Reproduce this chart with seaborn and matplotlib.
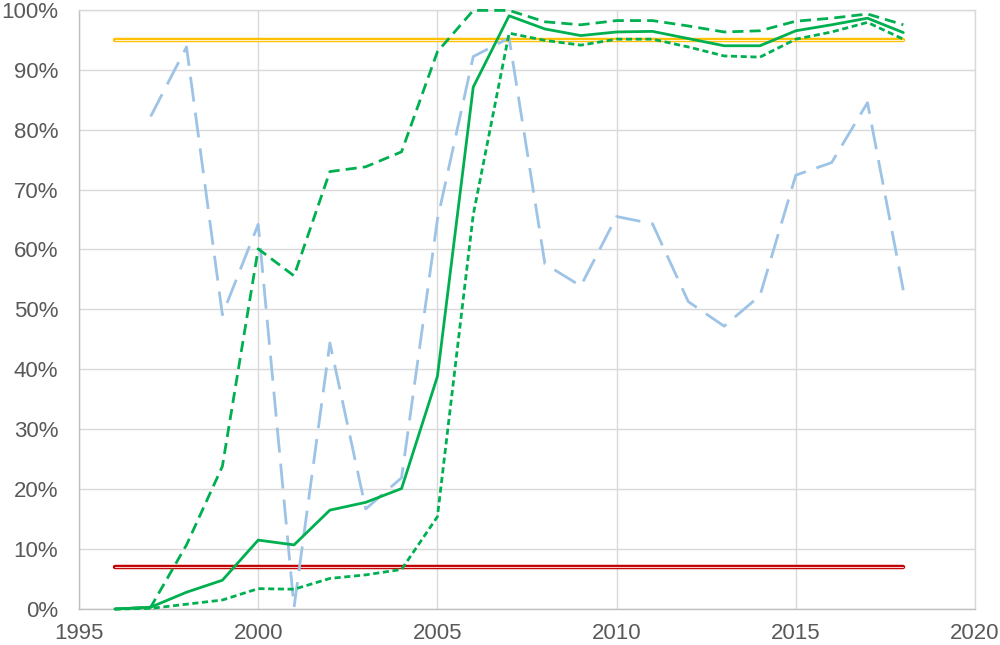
import numpy as np
import pandas as pd
import matplotlib
matplotlib.use("Agg")
import matplotlib.pyplot as plt
from matplotlib.ticker import PercentFormatter
import seaborn as sns

# values (percent)
years = list(range(1996, 2019))
central = [0, 0.3, 2.8, 4.8, 11.5, 10.7, 16.5, 17.8, 20.1, 38.8, 87.1, 99.0,
           96.8, 95.7, 96.3, 96.4, 95.2, 94.0, 94.0, 96.5, 97.5, 98.6, 96.2]
upper = [0, 0.3, 10.7, 23.8, 60.1, 55.6, 73.0, 73.8, 76.3, 93.0, 99.9, 99.9,
         98.0, 97.5, 98.2, 98.2, 97.3, 96.3, 96.5, 98.1, 98.6, 99.3, 97.5]
lower = [0, 0.1, 0.8, 1.5, 3.4, 3.3, 5.1, 5.7, 6.6, 15.4, 65.8, 96.1,
         94.9, 94.1, 95.1, 95.1, 93.8, 92.3, 92.1, 95.1, 96.3, 97.9, 95.1]
blue_years = list(range(1997, 2019))
blue = [82.2, 93.8, 49.1, 64.2, 0.3, 44.4, 16.7, 21.9, 65.0, 92.2, 95.3,
        57.6, 53.9, 65.5, 64.3, 51.3, 47.2, 52.3, 72.4, 74.5, 84.5, 53.2]
target_high = 95
target_low = 7

green = "#00B050"
light_blue = "#9DC3E6"
gold = "#FFC000"
dark_red = "#C00000"

df = pd.DataFrame({"year": years, "central": central, "upper": upper, "lower": lower})
df_blue = pd.DataFrame({"year": blue_years, "value": blue})
df_hi = pd.DataFrame({"year": [years[0], years[-1]], "value": [target_high] * 2})
df_lo = pd.DataFrame({"year": [years[0], years[-1]], "value": [target_low] * 2})

sns.set_theme(style="whitegrid")
plt.rcParams["font.family"] = ["Liberation Sans", "DejaVu Sans"]

fig = plt.figure(figsize=(10, 6.45), dpi=100)
ax = fig.add_axes([0.079, 0.0558, 0.896, 0.929])

# double lines for the two reference levels
for d, c, inner in [(df_hi, gold, "#FFF2CC"), (df_lo, dark_red, "#F4CCCC")]:
    sns.lineplot(data=d, x="year", y="value", ax=ax, color=c, lw=3.2)
    sns.lineplot(data=d, x="year", y="value", ax=ax, color=inner, lw=0.8)

sns.lineplot(data=df_blue, x="year", y="value", ax=ax, color=light_blue, lw=2)
ax.lines[-1].set_dashes([9, 4])
sns.lineplot(data=df, x="year", y="upper", ax=ax, color=green, lw=2)
ax.lines[-1].set_dashes([4, 2.2])
sns.lineplot(data=df, x="year", y="lower", ax=ax, color=green, lw=2)
ax.lines[-1].set_dashes([2.2, 1.3])
sns.lineplot(data=df, x="year", y="central", ax=ax, color=green, lw=2)
for i, l in enumerate(ax.lines):
    l.set_clip_on(False)
    l.set_zorder(3 + i * 0.01)

ax.set_xlim(1995, 2020)
ax.set_ylim(0, 100)
ax.set_xticks(range(1995, 2021, 5))
ax.set_yticks(range(0, 101, 10))
ax.yaxis.set_major_formatter(PercentFormatter(decimals=0))
ax.set_xlabel("")
ax.set_ylabel("")
ax.grid(True, color="#D9D9D9", lw=1)
for s in ax.spines.values():
    s.set_visible(True)
    s.set_color("#D9D9D9")
    s.set_linewidth(1)
ax.spines["left"].set_color("#BFBFBF")
ax.spines["bottom"].set_color("#BFBFBF")
ax.tick_params(axis="both", length=0, labelsize=16, colors="#595959")
ax.tick_params(axis="x", pad=10)
ax.tick_params(axis="y", pad=15)

fig.savefig("out.png", dpi=100)
